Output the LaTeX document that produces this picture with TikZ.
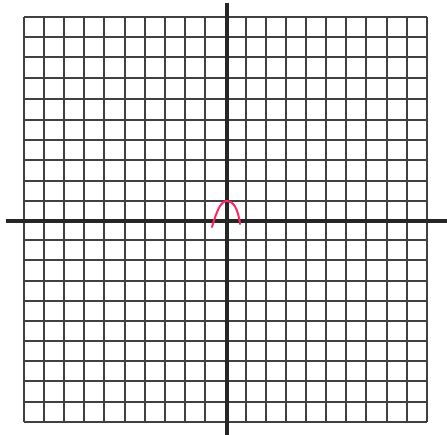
\documentclass[tikz,border=0pt]{standalone}
\begin{document}
\begin{tikzpicture}[x=1pt,y=-1pt,
  gridline/.style={line width=1.3pt, color=black!75},
  axisline/.style={line width=3.6pt, color=black!85},
  sketch/.style={line width=2pt, color=red!70!magenta!85!white, line cap=round}]
\useasboundingbox[fill=white] (0,0) rectangle (447,435);
% vertical grid lines
\foreach \x in {24,44,64,84,104,125,145,165,185,205,246,266,286,306,326,346,366,387,407,427}
  \draw[gridline] (\x,17) -- (\x,422);
% horizontal grid lines
\foreach \y in {17,37,57,78,99,120,140,160,181,201,240,260,281,301,321,341,361,381,402,422}
  \draw[gridline] (24,\y) -- (427,\y);
% axes
\coordinate (xl) at (6,221);
\coordinate (xr) at (447,221);
\coordinate (yt) at (227,3);
\coordinate (yb) at (227,435);
\draw[axisline] (xl) -- (xr);
\draw[axisline] (yt) -- (yb);
% red sketch
\coordinate (s0) at (212,227);
\coordinate (s1) at (227,201);
\coordinate (s2) at (240,224);
\draw[sketch] (s0) .. controls (217,210) and (221,201) .. (s1)
  .. controls (233,201) and (238,208) .. (s2);
\end{tikzpicture}
\end{document}
